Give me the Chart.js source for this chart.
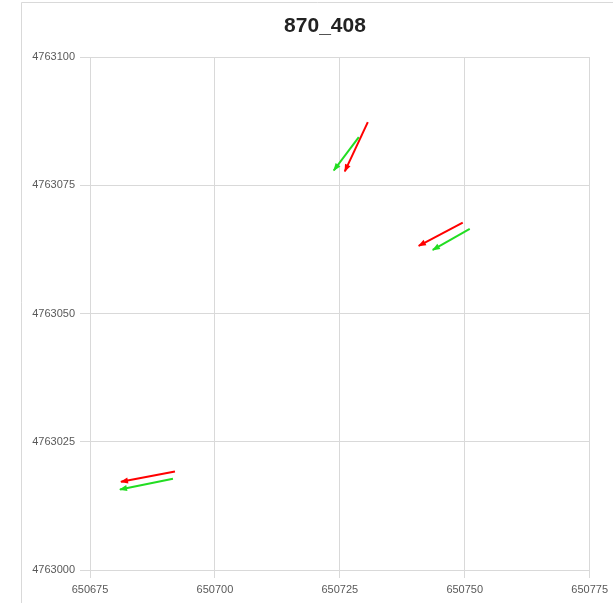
<!DOCTYPE html>
<html>
<head>
<meta charset="utf-8">
<script src="https://cdn.jsdelivr.net/npm/chart.js@4/dist/chart.umd.min.js"></script>
<style>
html,body{margin:0;padding:0;background:#fff;}
#wrap{width:613px;height:603px;position:relative;}
</style>
</head>
<body>
<div id="wrap"><canvas id="c" width="613" height="603"></canvas></div>
<script>
const chartTitle = '870_408';
const xTicks = [650675, 650700, 650725, 650750, 650775];
const yTicks = [4763000, 4763025, 4763050, 4763075, 4763100];
// arrow tails (start) and heads (end)
const redStartX = [650730.6, 650749.6, 650692.0];
const redStartY = [4763087.3, 4763067.7, 4763019.2];
const redEndX   = [650726.0, 650740.8, 650681.2];
const redEndY   = [4763077.7, 4763063.2, 4763017.2];
const greenStartX = [650728.8, 650751.0, 650691.6];
const greenStartY = [4763084.4, 4763066.5, 4763017.8];
const greenEndX   = [650723.8, 650743.6, 650681.0];
const greenEndY   = [4763077.9, 4763062.4, 4763015.7];

const RED = '#ff0000';
const GREEN = '#22dd22';
const GRID = '#d9d9d9';

const datasets = [];
function addArrows(sx, sy, ex, ey, color, name) {
  for (let i = 0; i < sx.length; i++) {
    datasets.push({
      label: name + ' ' + (i + 1),
      data: [{x: sx[i], y: sy[i]}, {x: ex[i], y: ey[i]}],
      showLine: true,
      borderColor: color,
      backgroundColor: color,
      borderWidth: 2,
      pointRadius: 0,
      pointHoverRadius: 0
    });
  }
}
addArrows(greenStartX, greenStartY, greenEndX, greenEndY, GREEN, 'green');
addArrows(redStartX, redStartY, redEndX, redEndY, RED, 'red');

const framePlugin = {
  id: 'frame',
  beforeDraw(chart) {
    const ctx = chart.ctx;
    ctx.save();
    ctx.fillStyle = '#fff';
    ctx.fillRect(0, 0, chart.width, chart.height);
    ctx.strokeStyle = GRID;
    ctx.lineWidth = 1;
    ctx.beginPath();
    ctx.moveTo(21.5, chart.height);
    ctx.lineTo(21.5, 2.5);
    ctx.lineTo(chart.width, 2.5);
    ctx.stroke();
    ctx.restore();
  },
  afterDraw(chart) {
    const ctx = chart.ctx;
    ctx.save();
    ctx.fillStyle = '#222';
    ctx.font = 'bold 21px "Liberation Sans", Arial, sans-serif';
    ctx.textAlign = 'center';
    ctx.textBaseline = 'middle';
    ctx.fillText(chartTitle, 325, 26);
    ctx.restore();
  }
};

const arrowHeadPlugin = {
  id: 'arrowHeads',
  afterDatasetsDraw(chart) {
    const ctx = chart.ctx;
    const xs = chart.scales.x, ys = chart.scales.y;
    chart.data.datasets.forEach(ds => {
      const a = ds.data[0], b = ds.data[1];
      const x1 = xs.getPixelForValue(a.x), y1 = ys.getPixelForValue(a.y);
      const x2 = xs.getPixelForValue(b.x), y2 = ys.getPixelForValue(b.y);
      const ang = Math.atan2(y2 - y1, x2 - x1);
      const L = 7, W = 3;
      ctx.save();
      ctx.fillStyle = ds.borderColor;
      ctx.translate(x2, y2);
      ctx.rotate(ang);
      ctx.beginPath();
      ctx.moveTo(1, 0);
      ctx.lineTo(-L, -W);
      ctx.lineTo(-L, W);
      ctx.closePath();
      ctx.fill();
      ctx.restore();
    });
  }
};

new Chart(document.getElementById('c'), {
  type: 'scatter',
  data: { datasets },
  options: {
    responsive: false,
    animation: false,
    events: [],
    layout: { padding: { left: 0, right: 22, top: 57, bottom: 0 } },
    plugins: {
      legend: { display: false },
      title: { display: false },
      tooltip: { enabled: false }
    },
    scales: {
      x: {
        type: 'linear',
        min: xTicks[0],
        max: xTicks[xTicks.length - 1],
        afterBuildTicks(s) { s.ticks = xTicks.map(v => ({value: v})); },
        afterFit(s) { s.height = 33; },
        grid: { color: GRID, tickLength: 8, tickColor: GRID },
        border: { color: GRID },
        ticks: {
          color: '#595959',
          padding: 5,
          font: { family: '"Liberation Sans", Arial, sans-serif', size: 11 },
          callback: v => String(v),
          maxRotation: 0
        }
      },
      y: {
        type: 'linear',
        min: yTicks[0],
        max: yTicks[yTicks.length - 1],
        afterBuildTicks(s) { s.ticks = yTicks.map(v => ({value: v})); },
        afterFit(s) { s.width = 90; },
        grid: { color: GRID, tickLength: 10, tickColor: GRID },
        border: { color: GRID },
        ticks: {
          color: '#595959',
          padding: 5,
          font: { family: '"Liberation Sans", Arial, sans-serif', size: 11 },
          callback: v => String(v)
        }
      }
    }
  },
  plugins: [framePlugin, arrowHeadPlugin]
});
</script>
</body>
</html>
